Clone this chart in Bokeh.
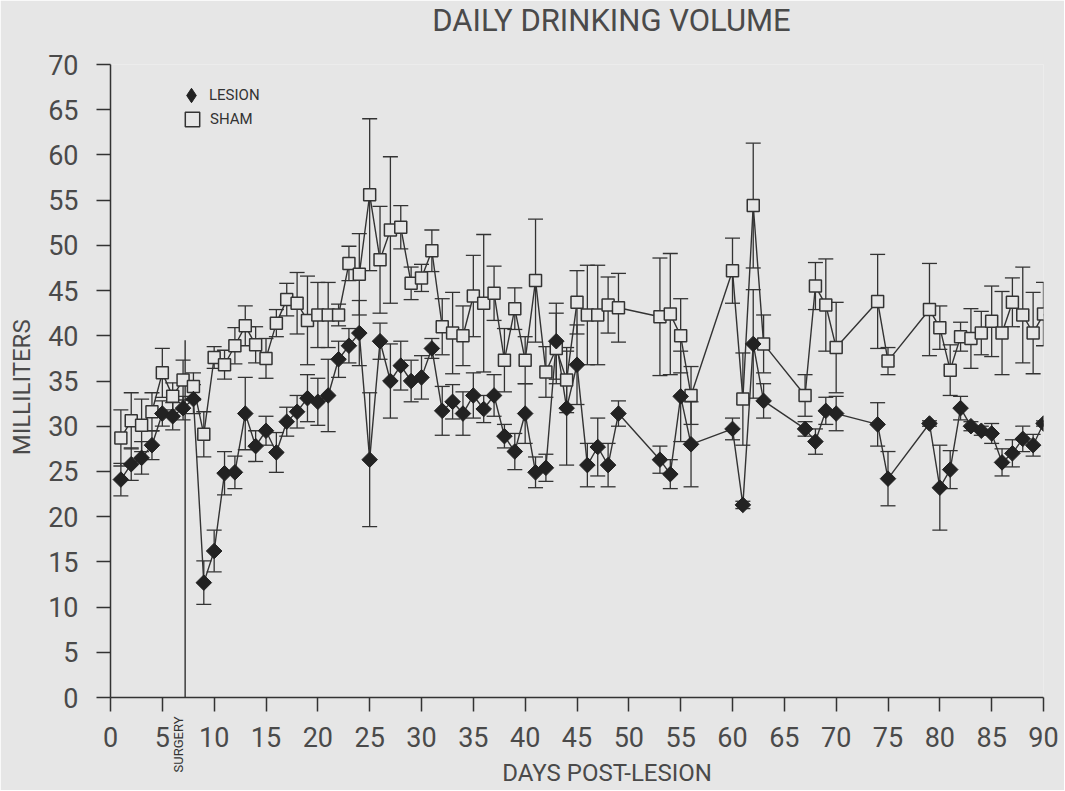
import math
from bokeh.plotting import figure
from bokeh.models import ColumnDataSource, Label, Legend, LegendItem, FixedTicker, Range1d
from bokeh.embed import file_html
from bokeh.resources import INLINE

# ---------------- data ----------------
lesion_days = list(range(1, 50)) + [53, 54, 55, 56, 60, 61, 62, 63, 67, 68, 69, 70,
                                    74, 75] + list(range(79, 91))
lesion_ml = [24.1, 25.8, 26.5, 27.9, 31.4, 31.1, 32.0, 33.0, 12.7, 16.2,
             24.8, 24.9, 31.4, 27.8, 29.5, 27.1, 30.5, 31.6, 33.1, 32.7,
             33.4, 37.4, 38.9, 40.3, 26.3, 39.4, 35.0, 36.7, 35.0, 35.4,
             38.6, 31.7, 32.7, 31.4, 33.4, 31.9, 33.4, 28.9, 27.2, 31.4,
             24.9, 25.4, 39.4, 32.0, 36.8, 25.7, 27.7, 25.7, 31.4,
             26.3, 24.7, 33.3, 28.0, 29.7, 21.3, 39.1, 32.8, 29.7, 28.3, 31.7, 31.4,
             30.2, 24.2,
             30.3, 23.2, 25.2, 32.0, 30.0, 29.5, 29.2, 26.0, 27.0, 28.6, 27.9, 30.3]
lesion_sem = [1.8, 1.8, 1.8, 1.6, 1.4, 1.5, 1.3, 1.6, 2.4, 2.3,
              2.4, 1.8, 4.0, 1.7, 1.6, 2.2, 1.6, 1.8, 2.6, 2.6,
              4.0, 2.0, 1.9, 3.6, 7.4, 2.0, 4.1, 2.7, 2.3, 2.4,
              1.1, 2.7, 1.9, 2.4, 2.5, 1.5, 2.3, 1.3, 2.0, 3.3,
              1.7, 1.5, 4.2, 6.3, 4.4, 2.4, 3.2, 2.4, 1.4,
              1.5, 1.6, 5.0, 4.7, 1.2, 0.4, 6.0, 1.9, 0.8, 1.4, 1.5, 1.9,
              2.4, 3.0,
              0.3, 4.7, 2.1, 1.3, 0.5, 0.5, 1.1, 1.5, 1.5, 1.4, 1.2, 0.3]

sham_days = list(range(1, 50)) + [53, 54, 55, 56, 60, 61, 62, 63, 67, 68, 69, 70,
                                  74, 75] + list(range(79, 91))
sham_ml = [28.7, 30.6, 30.1, 31.6, 35.9, 33.3, 35.1, 34.4, 29.1, 37.6,
           36.8, 38.9, 41.1, 39.0, 37.5, 41.4, 44.0, 43.6, 41.7, 42.3,
           42.3, 42.3, 48.0, 46.8, 55.6, 48.4, 51.7, 52.0, 45.8, 46.4,
           49.4, 41.0, 40.3, 40.0, 44.4, 43.6, 44.7, 37.3, 43.0, 37.3,
           46.1, 36.0, 38.6, 35.1, 43.7, 42.3, 42.3, 43.4, 43.1,
           42.1, 42.4, 40.0, 33.4, 47.2, 33.0, 54.4, 39.1, 33.4, 45.5, 43.4, 38.7,
           43.8, 37.2,
           42.9, 40.9, 36.2, 39.9, 39.7, 40.3, 41.6, 40.3, 43.7, 42.3, 40.3, 42.4]
sham_sem = [3.1, 3.1, 2.9, 2.1, 2.7, 1.5, 2.2, 1.5, 2.5, 1.2,
            1.6, 2.0, 2.2, 2.0, 2.2, 1.5, 1.8, 3.4, 4.9, 3.6,
            3.6, 1.2, 1.9, 4.5, 8.4, 5.9, 8.1, 2.4, 1.8, 1.5,
            2.3, 3.1, 4.5, 3.3, 4.5, 7.6, 3.0, 3.5, 2.3, 2.6,
            6.8, 2.8, 3.9, 3.6, 3.5, 5.5, 5.5, 3.1, 3.8,
            6.5, 6.7, 4.1, 3.2, 3.6, 5.1, 6.9, 3.2, 2.3, 2.6, 5.1, 5.0,
            5.2, 1.5,
            5.1, 2.4, 2.8, 1.6, 3.3, 2.4, 3.9, 4.6, 2.7, 5.3, 4.5, 3.5]

x_ticks = list(range(0, 95, 5))
y_ticks = list(range(0, 75, 5))
surgery_day = 7.2
surgery_top = 39.5

# ---------------- styling ----------------
BG = "#e6e6e6"
INK = "#333333"
TXT = "#4a4a4a"
FONT = "Roboto"

p = figure(width=1064, height=790, output_backend="svg", toolbar_location=None,
           x_range=Range1d(0, 90), y_range=Range1d(0, 70),
           min_border_left=110, min_border_right=21, min_border_top=64,
           min_border_bottom=93)
p.background_fill_color = BG
p.border_fill_color = BG
p.outline_line_color = None
p.grid.visible = False

for ax in (p.xaxis[0], p.yaxis[0]):
    ax.axis_line_color = INK
    ax.axis_line_width = 1.5
    ax.major_tick_line_color = INK
    ax.major_tick_line_width = 1.5
    ax.major_tick_in = 0
    ax.major_tick_out = 14
    ax.minor_tick_line_color = None
    ax.major_label_text_font = FONT
    ax.major_label_text_font_size = "27px"
    ax.major_label_text_color = TXT

p.xaxis[0].ticker = FixedTicker(ticks=x_ticks)
p.yaxis[0].ticker = FixedTicker(ticks=y_ticks)
p.xaxis[0].major_label_standoff = 15
p.yaxis[0].major_label_standoff = 18

les = ColumnDataSource(dict(x=lesion_days, y=lesion_ml,
                            lo=[m - s for m, s in zip(lesion_ml, lesion_sem)],
                            hi=[m + s for m, s in zip(lesion_ml, lesion_sem)]))
sha = ColumnDataSource(dict(x=sham_days, y=sham_ml,
                            lo=[m - s for m, s in zip(sham_ml, sham_sem)],
                            hi=[m + s for m, s in zip(sham_ml, sham_sem)]))

# surgery marker
p.segment(x0=[surgery_day], y0=[-0.8], x1=[surgery_day], y1=[surgery_top],
          line_color=INK, line_width=1.4)

# connecting lines
p.line("x", "y", source=sha, line_color=INK, line_width=1.4)
p.line("x", "y", source=les, line_color=INK, line_width=1.4)

# error bars
for src in (sha, les):
    p.segment(x0="x", y0="lo", x1="x", y1="hi", source=src, line_color=INK, line_width=1.3)
    p.scatter("x", "lo", source=src, marker="dash", size=15, line_color=INK, line_width=1.3)
    p.scatter("x", "hi", source=src, marker="dash", size=15, line_color=INK, line_width=1.3)

# markers
r_sham = p.scatter("x", "y", source=sha, marker="square", size=12,
                   fill_color=BG, line_color=INK, line_width=1.5)
p.scatter("x", "y", source=les, marker="square", angle=math.pi / 4, size=11,
          fill_color="#222222", line_color="#222222", line_width=1)
# key glyph for the legend (zero size in the plot, legend gives it its own size)
k_les = p.scatter("x", "y", source=les, marker="diamond", size=0,
                  fill_color="#222222", line_color="#222222", line_width=1)

leg_style = dict(glyph_width=36, glyph_height=36, label_height=36,
                 spacing=0, padding=0, margin=0, label_standoff=0,
                 border_line_color=None, background_fill_alpha=0,
                 label_text_font=FONT, label_text_font_size="15px",
                 label_text_color=INK)
p.add_layout(Legend(items=[LegendItem(label="LESION", renderers=[k_les])],
                    location=(63, 584), **leg_style), "center")
p.add_layout(Legend(items=[LegendItem(label="SHAM", renderers=[r_sham])],
                    location=(64, 560), **leg_style), "center")

# texts, placed in the side panels so that the frame does not clip them
p.add_layout(Label(x=48.33, y=74.9, text="DAILY DRINKING VOLUME", text_align="center",
                   text_baseline="middle", text_font=FONT, text_font_size="31px",
                   text_color=TXT), "above")
p.add_layout(Label(x=6.56, y=-5.2, text="SURGERY", text_align="center",
                   text_baseline="middle", angle=math.pi / 2, text_font=FONT,
                   text_font_size="13px", text_color=INK), "right")
p.add_layout(Label(x=47.9, y=-8.4, text="DAYS POST-LESION", text_align="center",
                   text_baseline="middle", text_font=FONT, text_font_size="24px",
                   text_color=TXT), "below")
p.add_layout(Label(x=-8.5, y=34.3, text="MILLILITERS", text_align="center",
                   text_baseline="middle", angle=math.pi / 2, text_font=FONT,
                   text_font_size="24px", text_color=TXT), "left")

open("out.html", "w").write(file_html(p, INLINE))
